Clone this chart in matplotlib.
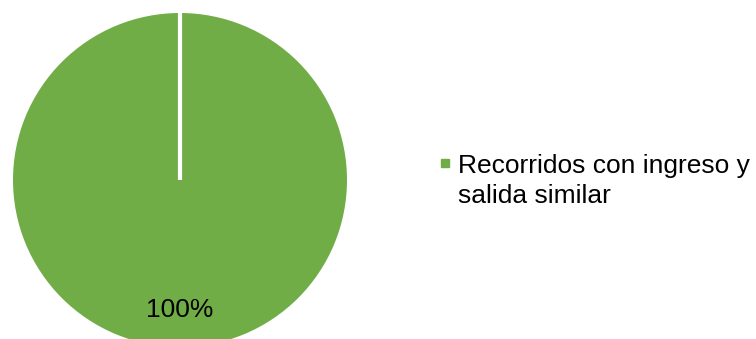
import numpy as np
import matplotlib.pyplot as plt
from matplotlib.lines import Line2D

plt.rcParams['font.family'] = ['Liberation Sans', 'DejaVu Sans']

# data
labels = ["Recorridos con ingreso y\nsalida similar"]
values = [100]
colors = ["#70AD47"]

W, H = 756, 339
fig = plt.figure(figsize=(W / 100, H / 100), dpi=100)

# pie axes: center (180, 180) px from top-left, radius 167 px
cx, cy, r = 180, 180, 167
ax = fig.add_axes([(cx - r) / W, (H - cy - r) / H, 2 * r / W, 2 * r / H])

wedges, texts, autotexts = ax.pie(values, colors=colors, startangle=90,
                                  counterclock=False, autopct="%1.0f%%",
                                  pctdistance=0.78, radius=1,
                                  textprops={"fontsize": 19, "color": "black"})
# white separator from the start angle to the center
ax.plot([0, 0], [0, 1.0], color="white", lw=3, solid_capstyle="butt")
ax.set_xlim(-1, 1)
ax.set_ylim(-1, 1)
ax.set_aspect("equal")
ax.axis("off")

handles = [Line2D([], [], marker="s", color="none", markerfacecolor=c,
                  markeredgecolor=c, markersize=5.5) for c in colors]
leg = fig.legend(handles, labels, loc="upper left", bbox_to_anchor=(437 / W, 1 - 154 / H),
                 frameon=False, fontsize=19, handlelength=0.6, handletextpad=0.2,
                 borderpad=0, borderaxespad=0, labelspacing=0)
for t in leg.get_texts():
    t.set_linespacing(1.32)
# keep the marker next to the first line of the label
for col in leg._legend_handle_box.get_children():
    for item in col.get_children():
        item.align = "top"

fig.savefig("out.png", dpi=100)
